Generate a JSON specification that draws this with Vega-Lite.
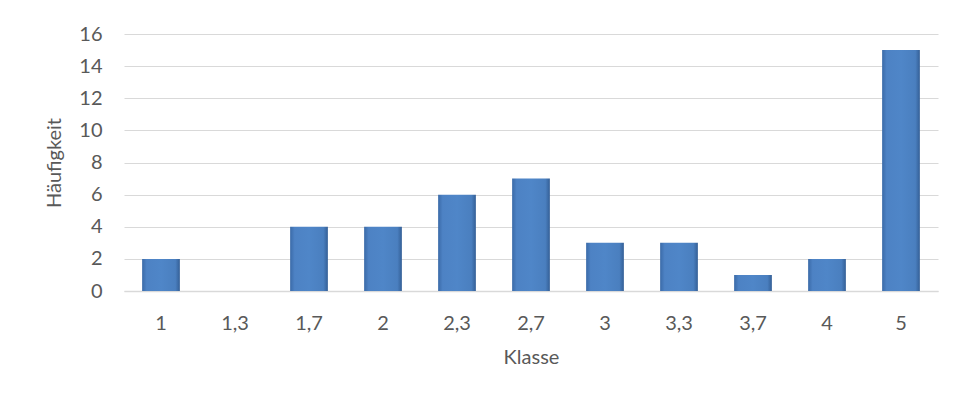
{
  "$schema": "https://vega.github.io/schema/vega-lite/v6.json",
  "width": 814,
  "height": 257,
  "autosize": {"type": "none"},
  "padding": {"left": 124, "top": 34, "right": 17, "bottom": 110},
  "background": "white",
  "data": {
    "values": [
      {"Klasse": "1", "Haeufigkeit": 2},
      {"Klasse": "1,3", "Haeufigkeit": 0},
      {"Klasse": "1,7", "Haeufigkeit": 4},
      {"Klasse": "2", "Haeufigkeit": 4},
      {"Klasse": "2,3", "Haeufigkeit": 6},
      {"Klasse": "2,7", "Haeufigkeit": 7},
      {"Klasse": "3", "Haeufigkeit": 3},
      {"Klasse": "3,3", "Haeufigkeit": 3},
      {"Klasse": "3,7", "Haeufigkeit": 1},
      {"Klasse": "4", "Haeufigkeit": 2},
      {"Klasse": "5", "Haeufigkeit": 15}
    ]
  },
  "mark": {
    "type": "bar",
    "fill": {
      "x1": 0, "y1": 0, "x2": 1, "y2": 0,
      "gradient": "linear",
      "stops": [
        {"offset": 0, "color": "#3a6aa8"},
        {"offset": 0.12, "color": "#4d82c4"},
        {"offset": 0.5, "color": "#4f86c8"},
        {"offset": 0.88, "color": "#4a7fbf"},
        {"offset": 1, "color": "#345f96"}
      ]
    }
  },
  "encoding": {
    "x": {
      "field": "Klasse",
      "type": "nominal",
      "sort": null,
      "scale": {"paddingInner": 0.49, "paddingOuter": 0.245},
      "axis": {
        "title": "Klasse",
        "labelAngle": 0,
        "ticks": false,
        "domainColor": "#d9d9d9",
        "domainWidth": 1.5,
        "labelPadding": 22,
        "titlePadding": 14
      }
    },
    "y": {
      "field": "Haeufigkeit",
      "type": "quantitative",
      "scale": {"domain": [0, 16], "nice": false},
      "axis": {
        "title": "Häufigkeit",
        "values": [0, 2, 4, 6, 8, 10, 12, 14, 16],
        "domain": false,
        "ticks": false,
        "gridColor": "#d9d9d9",
        "gridWidth": 1,
        "labelPadding": 22,
        "titlePadding": 14
      }
    }
  },
  "config": {
    "view": {"stroke": null},
    "font": "Lato",
    "axis": {
      "labelFont": "Lato",
      "titleFont": "Lato",
      "labelFontSize": 20,
      "titleFontSize": 20,
      "labelColor": "#595959",
      "titleColor": "#595959",
      "titleFontWeight": "normal"
    }
  }
}
